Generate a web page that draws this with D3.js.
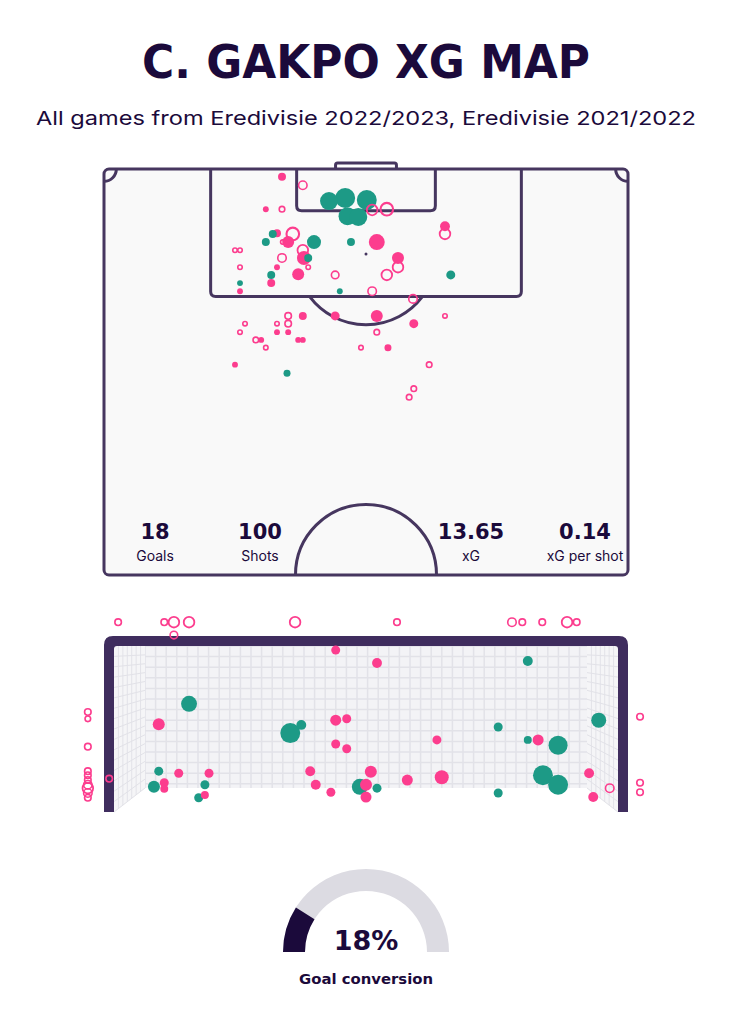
<!DOCTYPE html>
<html>
<head>
<meta charset="utf-8">
<script src="https://cdn.jsdelivr.net/npm/d3@7"></script>
<style>
  body { margin: 0; background: #fff; }
</style>
</head>
<body>
<div id="chart"></div>
<script>
(function() {
	'use strict';

	var titleText = "C. GAKPO XG MAP";
	var subtitleText = "All games from Eredivisie 2022/2023, Eredivisie 2021/2022";
	var statValues = ["18", "100", "13.65", "0.14"];
	var statLabels = ["Goals", "Shots", "xG", "xG per shot"];
	var conversionRate = 0.18;
	var conversionText = "18%";
	var conversionLabel = "Goal conversion";

	// shots on the pitch: [metres from left touchline, metres from goal line, xG]
	var pitchGoals = [
		[29.2, 4.15, 0.56], [31.3, 3.75, 0.69], [34.1, 4.0, 0.69], [31.6, 6.1, 0.56], [33.0, 6.2, 0.56],
		[21.9, 8.4, 0.11], [21.0, 9.45, 0.11], [27.25, 9.45, 0.34], [32.05, 9.45, 0.11], [26.5, 11.5, 0.11],
		[21.7, 13.7, 0.11], [17.65, 14.75, 0.06], [30.6, 15.8, 0.06], [45.0, 13.7, 0.14], [23.75, 26.4, 0.085]
	];
	var pitchSaved = [
		[23.1, 1.0, 0.11], [21.0, 5.2, 0.06], [22.45, 8.3, 0.11], [23.9, 9.45, 0.25], [35.4, 9.45, 0.44],
		[44.25, 7.4, 0.17], [25.95, 11.5, 0.34], [38.15, 11.5, 0.25], [22.45, 12.7, 0.06], [25.2, 13.6, 0.25],
		[21.7, 14.75, 0.11], [17.65, 15.8, 0.06], [25.8, 19.0, 0.11], [30.0, 19.0, 0.14], [35.4, 19.0, 0.25],
		[40.2, 20.0, 0.14], [22.45, 21.1, 0.06], [23.9, 21.1, 0.06], [20.4, 22.1, 0.06], [25.2, 22.1, 0.06],
		[25.8, 22.1, 0.06], [36.85, 23.1, 0.085], [17.0, 25.3, 0.06]
	];
	var pitchMissed = [
		[25.8, 2.1, 0.17], [23.1, 5.2, 0.085], [34.8, 5.3, 0.25], [36.7, 5.2, 0.34], [24.5, 8.4, 0.34],
		[23.2, 9.45, 0.06], [44.25, 8.4, 0.25], [17.0, 10.5, 0.06], [17.65, 10.5, 0.06], [25.8, 10.5, 0.25],
		[23.1, 11.5, 0.17], [26.5, 12.7, 0.06], [17.65, 12.7, 0.06], [38.15, 12.7, 0.25], [30.0, 13.7, 0.14],
		[36.7, 13.7, 0.25], [34.8, 15.8, 0.17], [40.1, 16.8, 0.17], [23.9, 19.0, 0.11], [44.25, 19.0, 0.06],
		[18.3, 20.0, 0.06], [22.45, 20.0, 0.06], [23.9, 20.0, 0.11], [17.65, 21.1, 0.06], [35.4, 21.1, 0.085],
		[19.7, 22.1, 0.085], [21.0, 23.1, 0.06], [33.35, 23.1, 0.06], [42.2, 25.3, 0.085], [40.2, 28.4, 0.085],
		[39.6, 29.5, 0.085]
	];

	// shots at the goal mouth: [metres from left post, height in metres, xG]
	var mouthGoals = [
		[1.09, 1.59, 0.44], [2.56, 1.16, 0.69], [2.72, 1.28, 0.17], [0.65, 0.60, 0.14], [0.58, 0.37, 0.25],
		[1.32, 0.40, 0.14], [1.23, 0.21, 0.14], [3.57, 0.37, 0.44], [3.82, 0.35, 0.14], [6.01, 2.22, 0.17],
		[7.04, 1.35, 0.39], [5.58, 1.25, 0.14], [6.01, 1.06, 0.11], [6.45, 0.98, 0.63], [6.23, 0.54, 0.69],
		[6.45, 0.40, 0.69], [5.58, 0.28, 0.14]
	];
	var mouthSaved = [
		[0.65, 1.29, 0.25], [0.73, 0.43, 0.14], [0.73, 0.34, 0.11], [0.94, 0.57, 0.14], [1.38, 0.57, 0.14],
		[1.32, 0.25, 0.11], [3.22, 2.38, 0.14], [3.82, 2.19, 0.17], [3.22, 1.35, 0.21], [3.38, 1.37, 0.14],
		[3.22, 1.00, 0.14], [3.38, 0.93, 0.14], [4.69, 1.06, 0.14], [2.85, 0.60, 0.17], [2.93, 0.40, 0.17],
		[3.15, 0.29, 0.14], [3.73, 0.59, 0.25], [3.66, 0.40, 0.25], [3.66, 0.22, 0.21], [4.26, 0.47, 0.21],
		[4.76, 0.51, 0.34], [6.16, 1.06, 0.21], [6.90, 0.57, 0.17], [6.96, 0.22, 0.17]
	];
	var mouthMissed = [
		[0.06, 2.79, 0.11], [0.73, 2.79, 0.11], [0.87, 2.79, 0.25], [1.09, 2.79, 0.25], [0.87, 2.60, 0.14],
		[2.63, 2.79, 0.25], [4.11, 2.79, 0.11], [5.78, 2.79, 0.17], [5.93, 2.79, 0.11], [6.22, 2.79, 0.11],
		[6.58, 2.79, 0.25], [6.72, 2.79, 0.11], [-0.38, 1.47, 0.11], [-0.38, 1.37, 0.085], [-0.38, 0.96, 0.11],
		[-0.38, 0.60, 0.11], [-0.38, 0.54, 0.11], [-0.38, 0.47, 0.11], [-0.38, 0.40, 0.17], [-0.38, 0.35, 0.25],
		[-0.38, 0.28, 0.17], [-0.38, 0.21, 0.11], [-0.07, 0.49, 0.11], [7.20, 0.35, 0.17], [7.64, 1.40, 0.11],
		[7.64, 0.43, 0.11], [7.64, 0.29, 0.11]
	];

	var config = {
		width: 733,
		height: 1024,
		ink: "#1b0a3b",
		lineColor: "#46365f",
		pitchFill: "#f9f9f9",
		goalColor: "#1d9a86",
		shotColor: "#fc3d8e",
		frameColor: "#3f2d5e",
		netFill: "#f3f3f6",
		netLine: "#e2e2e8",
		gaugeBack: "#dcdbe2"
	};

	var svg = d3.select("#chart").append("svg")
		.attr("width", config.width)
		.attr("height", config.height);

	/* Titles */
	svg.append("text")
		.attr("x", 366).attr("y", 78)
		.attr("text-anchor", "middle")
		.attr("font-family", "DejaVu Sans")
		.attr("font-weight", "bold")
		.attr("font-size", 46)
		.attr("textLength", 448)
		.attr("lengthAdjust", "spacingAndGlyphs")
		.attr("fill", config.ink)
		.text(titleText);

	svg.append("text")
		.attr("x", 366).attr("y", 125)
		.attr("text-anchor", "middle")
		.attr("font-family", "Inter")
		.attr("font-size", 19)
		.attr("textLength", 660)
		.attr("lengthAdjust", "spacingAndGlyphs")
		.attr("fill", config.ink)
		.text(subtitleText);

	/* Pitch */
	var pitchX = d3.scaleLinear().domain([0, 68]).range([104, 628]);
	var pitchY = d3.scaleLinear().domain([0, 52.5]).range([169, 575]);
	var rScale = d3.scaleSqrt().domain([0, 1]).range([0, 12]);
	var m = function(v){ return pitchX(v) - pitchX(0); };

	var gPitch = svg.append("g")
		.attr("fill", "none")
		.attr("stroke", config.lineColor)
		.attr("stroke-width", 3)
		.attr("stroke-linejoin", "round");

	// goal on the pitch
	var gw = 3.95;
	gPitch.append("path")
		.attr("d", "M" + pitchX(34 - gw) + "," + pitchY(0) +
			" V" + (pitchY(0) - 4) + " Q" + pitchX(34 - gw) + "," + (pitchY(0) - 6) + " " + (pitchX(34 - gw) + 2) + "," + (pitchY(0) - 6) +
			" H" + (pitchX(34 + gw) - 2) + " Q" + pitchX(34 + gw) + "," + (pitchY(0) - 6) + " " + pitchX(34 + gw) + "," + (pitchY(0) - 4) +
			" V" + pitchY(0))
		.attr("fill", "#fff");

	gPitch.append("rect")
		.attr("x", pitchX(0)).attr("y", pitchY(0))
		.attr("width", pitchX(68) - pitchX(0))
		.attr("height", pitchY(52.5) - pitchY(0))
		.attr("rx", 5)
		.attr("fill", config.pitchFill);

	function boxPath(half, depth, r){
		var x1 = pitchX(34 - half), x2 = pitchX(34 + half), y0 = pitchY(0), y1 = pitchY(depth);
		return "M" + x1 + "," + y0 + " V" + (y1 - r) + " Q" + x1 + "," + y1 + " " + (x1 + r) + "," + y1 +
			" H" + (x2 - r) + " Q" + x2 + "," + y1 + " " + x2 + "," + (y1 - r) + " V" + y0;
	}
	gPitch.append("path").attr("d", boxPath(20.16, 16.5, 5));
	gPitch.append("path").attr("d", boxPath(9.0, 5.4, 5));

	// penalty arc
	var arcDx = Math.sqrt(9.15 * 9.15 - 5.5 * 5.5);
	gPitch.append("path")
		.attr("d", "M" + pitchX(34 - arcDx) + "," + pitchY(16.5) +
			" A" + m(9.15) + "," + m(9.15) + " 0 0 0 " + pitchX(34 + arcDx) + "," + pitchY(16.5));

	// centre circle
	gPitch.append("path")
		.attr("d", "M" + pitchX(34 - 9.15) + "," + pitchY(52.5) +
			" A" + m(9.15) + "," + m(9.15) + " 0 0 1 " + pitchX(34 + 9.15) + "," + pitchY(52.5));

	// corner arcs
	gPitch.append("path")
		.attr("d", "M" + pitchX(0) + "," + pitchY(1.6) + " A" + m(1.6) + "," + m(1.6) + " 0 0 0 " + pitchX(1.6) + "," + pitchY(0));
	gPitch.append("path")
		.attr("d", "M" + pitchX(66.4) + "," + pitchY(0) + " A" + m(1.6) + "," + m(1.6) + " 0 0 0 " + pitchX(68) + "," + pitchY(1.6));

	// penalty spot
	svg.append("circle")
		.attr("cx", pitchX(34)).attr("cy", pitchY(11)).attr("r", 1.5)
		.attr("fill", config.lineColor);

	function tagShots(list, kind){
		return list.map(function(d){ return {x: d[0], y: d[1], xg: d[2], kind: kind}; });
	}

	function drawShots(g, shots, sx, sy){
		shots.sort(function(a, b){ return b.xg - a.xg; });
		g.selectAll("circle").data(shots).enter().append("circle")
			.attr("cx", function(d){ return sx(d.x); })
			.attr("cy", function(d){ return sy(d.y); })
			.attr("r", function(d){
				var r = rScale(d.xg);
				return d.kind === "missed" ? r - 0.7 : r;
			})
			.attr("fill", function(d){
				if (d.kind === "goal") return config.goalColor;
				if (d.kind === "saved") return config.shotColor;
				return "none";
			})
			.attr("stroke", function(d){ return d.kind === "missed" ? config.shotColor : "none"; })
			.attr("stroke-width", function(d){ return Math.max(1.6, rScale(d.xg) * 0.3); });
	}

	var pitchShots = tagShots(pitchMissed, "missed")
		.concat(tagShots(pitchSaved, "saved"))
		.concat(tagShots(pitchGoals, "goal"));
	drawShots(svg.append("g"), pitchShots, pitchX, pitchY);

	/* Stats */
	var statX = [155, 260, 471, 585];
	var gStats = svg.append("g").attr("text-anchor", "middle").attr("fill", config.ink);
	gStats.selectAll(".stat-value").data(statValues).enter().append("text")
		.attr("class", "stat-value")
		.attr("x", function(d, i){ return statX[i]; })
		.attr("y", 539)
		.attr("font-family", "DejaVu Sans")
		.attr("font-weight", "bold")
		.attr("font-size", 21)
		.text(function(d){ return d; });
	gStats.selectAll(".stat-label").data(statLabels).enter().append("text")
		.attr("class", "stat-label")
		.attr("x", function(d, i){ return statX[i]; })
		.attr("y", 561)
		.attr("font-family", "Inter")
		.attr("font-size", 14)
		.text(function(d){ return d; });

	/* Goal mouth */
	var goalX = d3.scaleLinear().domain([0, 7.32]).range([114, 618]);
	var goalY = d3.scaleLinear().domain([0, 2.44]).range([812, 646]);
	var post = 10, depthX = 31, depthY = 24, cell = 10.6;

	var gNet = svg.append("g");
	var bL = goalX(0) + depthX, bR = goalX(7.32) - depthX, bT = goalY(2.44), bB = goalY(0) - depthY;

	gNet.append("rect")
		.attr("x", bL).attr("y", bT)
		.attr("width", bR - bL).attr("height", bB - bT)
		.attr("fill", config.netFill);

	var vx = d3.range(bL, bR + 0.1, cell);
	var hy = d3.range(bT, bB + 0.1, cell);
	gNet.selectAll(".nv").data(vx).enter().append("line")
		.attr("x1", function(d){ return d; }).attr("x2", function(d){ return d; })
		.attr("y1", bT).attr("y2", bB)
		.attr("stroke", config.netLine).attr("stroke-width", 1.5);
	gNet.selectAll(".nh").data(hy).enter().append("line")
		.attr("x1", bL).attr("x2", bR)
		.attr("y1", function(d){ return d; }).attr("y2", function(d){ return d; })
		.attr("stroke", config.netLine).attr("stroke-width", 1.5);

	// side nets
	[[goalX(0), bL], [goalX(7.32), bR]].forEach(function(s){
		var front = s[0], back = s[1];
		gNet.append("path")
			.attr("d", "M" + front + "," + bT + " L" + back + "," + bT + " L" + back + "," + bB + " L" + front + "," + goalY(0) + "Z")
			.attr("fill", "#f5f5f7");
		var steps = 7;
		for (var k = 1; k < steps; k++) {
			var t = k / steps;
			var x = front + (back - front) * t;
			gNet.append("line")
				.attr("x1", x).attr("x2", x)
				.attr("y1", bT).attr("y2", goalY(0) + (bB - goalY(0)) * t)
				.attr("stroke", config.netLine).attr("stroke-width", 1);
		}
		var rows = Math.round((goalY(0) - bT) / cell);
		for (var j = 1; j <= rows; j++) {
			var yb = bT + (bB - bT) * j / rows;
			var yf = bT + (goalY(0) - bT) * j / rows;
			gNet.append("line")
				.attr("x1", front).attr("x2", back)
				.attr("y1", yf).attr("y2", yb)
				.attr("stroke", config.netLine).attr("stroke-width", 1);
		}
	});

	// frame
	var fl = goalX(0) - post, fr = goalX(7.32) + post, ft = goalY(2.44) - post, fb = goalY(0), rc = 9;
	svg.append("path")
		.attr("d", "M" + fl + "," + fb + " V" + (ft + rc) + " Q" + fl + "," + ft + " " + (fl + rc) + "," + ft +
			" H" + (fr - rc) + " Q" + fr + "," + ft + " " + fr + "," + (ft + rc) + " V" + fb +
			" H" + goalX(7.32) + " V" + (goalY(2.44) + 3) + " Q" + goalX(7.32) + "," + goalY(2.44) + " " + (goalX(7.32) - 3) + "," + goalY(2.44) +
			" H" + (goalX(0) + 3) + " Q" + goalX(0) + "," + goalY(2.44) + " " + goalX(0) + "," + (goalY(2.44) + 3) +
			" V" + fb + "Z")
		.attr("fill", config.frameColor);

	var mouthShots = tagShots(mouthMissed, "missed")
		.concat(tagShots(mouthSaved, "saved"))
		.concat(tagShots(mouthGoals, "goal"));
	drawShots(svg.append("g"), mouthShots, goalX, goalY);

	/* Gauge */
	var gaugeR = d3.scaleLinear().domain([0, 1]).range([-Math.PI / 2, Math.PI / 2]);
	var arc = d3.arc().innerRadius(61).outerRadius(83);
	var gGauge = svg.append("g").attr("transform", "translate(366,952)");
	gGauge.append("path")
		.attr("d", arc({startAngle: gaugeR(0), endAngle: gaugeR(1)}))
		.attr("fill", config.gaugeBack);
	gGauge.append("path")
		.attr("d", arc({startAngle: gaugeR(0), endAngle: gaugeR(conversionRate)}))
		.attr("fill", config.ink);
	gGauge.append("text")
		.attr("x", 0).attr("y", -2)
		.attr("text-anchor", "middle")
		.attr("font-family", "DejaVu Sans")
		.attr("font-weight", "bold")
		.attr("font-size", 27)
		.attr("fill", config.ink)
		.text(conversionText);
	gGauge.append("text")
		.attr("x", 0).attr("y", 32)
		.attr("text-anchor", "middle")
		.attr("font-family", "DejaVu Sans")
		.attr("font-weight", "bold")
		.attr("font-size", 14)
		.attr("textLength", 134)
		.attr("lengthAdjust", "spacingAndGlyphs")
		.attr("fill", config.ink)
		.text(conversionLabel);
}).call(this);
</script>
</body>
</html>
